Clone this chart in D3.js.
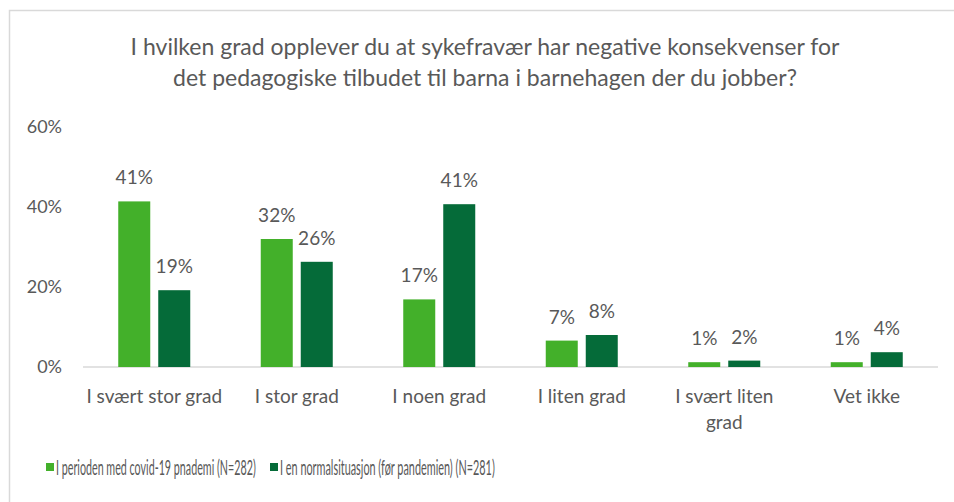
<!DOCTYPE html>
<html>
<head>
<meta charset="utf-8">
<script src="https://cdnjs.cloudflare.com/ajax/libs/d3/7.8.5/d3.min.js"></script>
<style>
  body { margin: 0; background: #fff; }
  svg { display: block; font-family: Lato, "Open Sans", sans-serif; }
</style>
</head>
<body>
<svg id="chart"></svg>
<script>
// data
var categories = ["I svært stor grad", "I stor grad", "I noen grad", "I liten grad", "I svært liten grad", "Vet ikke"];
var seriesNames = ["I perioden med covid-19 pnademi (N=282)", "I en normalsituasjon (før pandemien) (N=281)"];
var covidValues = [41.4, 32.0, 16.9, 6.6, 1.2, 1.2];
var normalValues = [19.2, 26.3, 40.7, 8.0, 1.6, 3.7];
var yTicks = [0, 20, 40, 60];
var titleLines = ["I hvilken grad opplever du at sykefravær har negative konsekvenser for",
                  "det pedagogiske tilbudet til barna i barnehagen der du jobber?"];

var width = 954, height = 502;
var colors = ["#43b02a", "#056b39"];
var textColor = "#595959";

var svg = d3.select("#chart").attr("width", width).attr("height", height);

// chart border (only top and left show in the frame)
svg.append("path")
    .attr("d", "M9.5," + height + "V10.5H" + width)
    .attr("fill", "none")
    .attr("stroke", "#d9d9d9")
    .attr("stroke-width", 1.5);

// title
svg.append("g").selectAll("text")
    .data(titleLines)
    .enter().append("text")
    .attr("x", 485)
    .attr("y", function(d, i) { return 55 + i * 31; })
    .attr("text-anchor", "middle")
    .attr("fill", textColor)
    .style("font-size", "23px")
    .text(function(d) { return d; });

var x0 = d3.scaleBand().domain(categories).range([83, 938]).padding(0);
var x1 = d3.scaleBand().domain(seriesNames).range([0, 72]).paddingInner(0.2);
var y = d3.scaleLinear().domain([0, 60]).range([367, 127]);
var offset = (x0.bandwidth() - 72) / 2;
var fmt = function(v) { return Math.round(v) + "%"; };

// y axis labels
svg.append("g").selectAll("text")
    .data(yTicks)
    .enter().append("text")
    .attr("x", 62)
    .attr("y", function(d) { return y(d); })
    .attr("dy", "0.36em")
    .attr("text-anchor", "end")
    .attr("fill", textColor)
    .style("font-size", "18px")
    .text(fmt);

// baseline
svg.append("line")
    .attr("x1", x0.range()[0]).attr("x2", x0.range()[1])
    .attr("y1", y(0)).attr("y2", y(0))
    .attr("stroke", "#d9d9d9")
    .attr("stroke-width", 1.5);

var rows = categories.map(function(c, i) {
    return { cat: c, vals: [covidValues[i], normalValues[i]] };
});

var groups = svg.append("g").selectAll("g")
    .data(rows)
    .enter().append("g")
    .attr("transform", function(d) { return "translate(" + (x0(d.cat) + offset) + ",0)"; });

var bars = groups.selectAll("g")
    .data(function(d) {
        return d.vals.map(function(v, j) { return { s: seriesNames[j], v: v, j: j }; });
    })
    .enter().append("g");

bars.append("rect")
    .attr("x", function(d) { return x1(d.s); })
    .attr("y", function(d) { return y(d.v); })
    .attr("width", x1.bandwidth())
    .attr("height", function(d) { return y(0) - y(d.v); })
    .attr("fill", function(d) { return colors[d.j]; });

bars.append("text")
    .attr("x", function(d) { return x1(d.s) + x1.bandwidth() / 2; })
    .attr("y", function(d) { return y(d.v) - 17; })
    .attr("text-anchor", "middle")
    .attr("fill", textColor)
    .style("font-size", "19px")
    .text(function(d) { return fmt(d.v); });

// category labels, wrapped like the original
var catLines = {"I svært liten grad": ["I svært liten", "grad"]};
svg.append("g").selectAll("text")
    .data(categories)
    .enter().append("text")
    .attr("x", function(d) { return x0(d) + x0.bandwidth() / 2; })
    .attr("y", 403)
    .attr("text-anchor", "middle")
    .attr("fill", textColor)
    .style("font-size", "19px")
    .each(function(d) {
        var lines = catLines[d] || [d];
        var t = d3.select(this);
        lines.forEach(function(l, i) {
            t.append("tspan")
                .attr("x", x0(d) + x0.bandwidth() / 2)
                .attr("dy", i === 0 ? 0 : 26)
                .text(l);
        });
    });

// legend - the original uses a condensed face, so squeeze horizontally
var legendX = [46, 270];
var legendW = [200, 215];
var legend = svg.append("g").selectAll("g")
    .data(seriesNames)
    .enter().append("g")
    .attr("transform", function(d, i) { return "translate(" + legendX[i] + ",463)"; });

legend.append("rect")
    .attr("width", 8).attr("height", 8)
    .attr("fill", function(d, i) { return colors[i]; });

legend.append("text")
    .attr("y", 4)
    .attr("dy", "0.36em")
    .attr("fill", textColor)
    .style("font-size", "21px")
    .text(function(d) { return d; })
    .attr("transform", function(d, i) {
        var k = legendW[i] / this.getComputedTextLength();
        return "translate(10,0) scale(" + k + ",1)";
    });
</script>
</body>
</html>
